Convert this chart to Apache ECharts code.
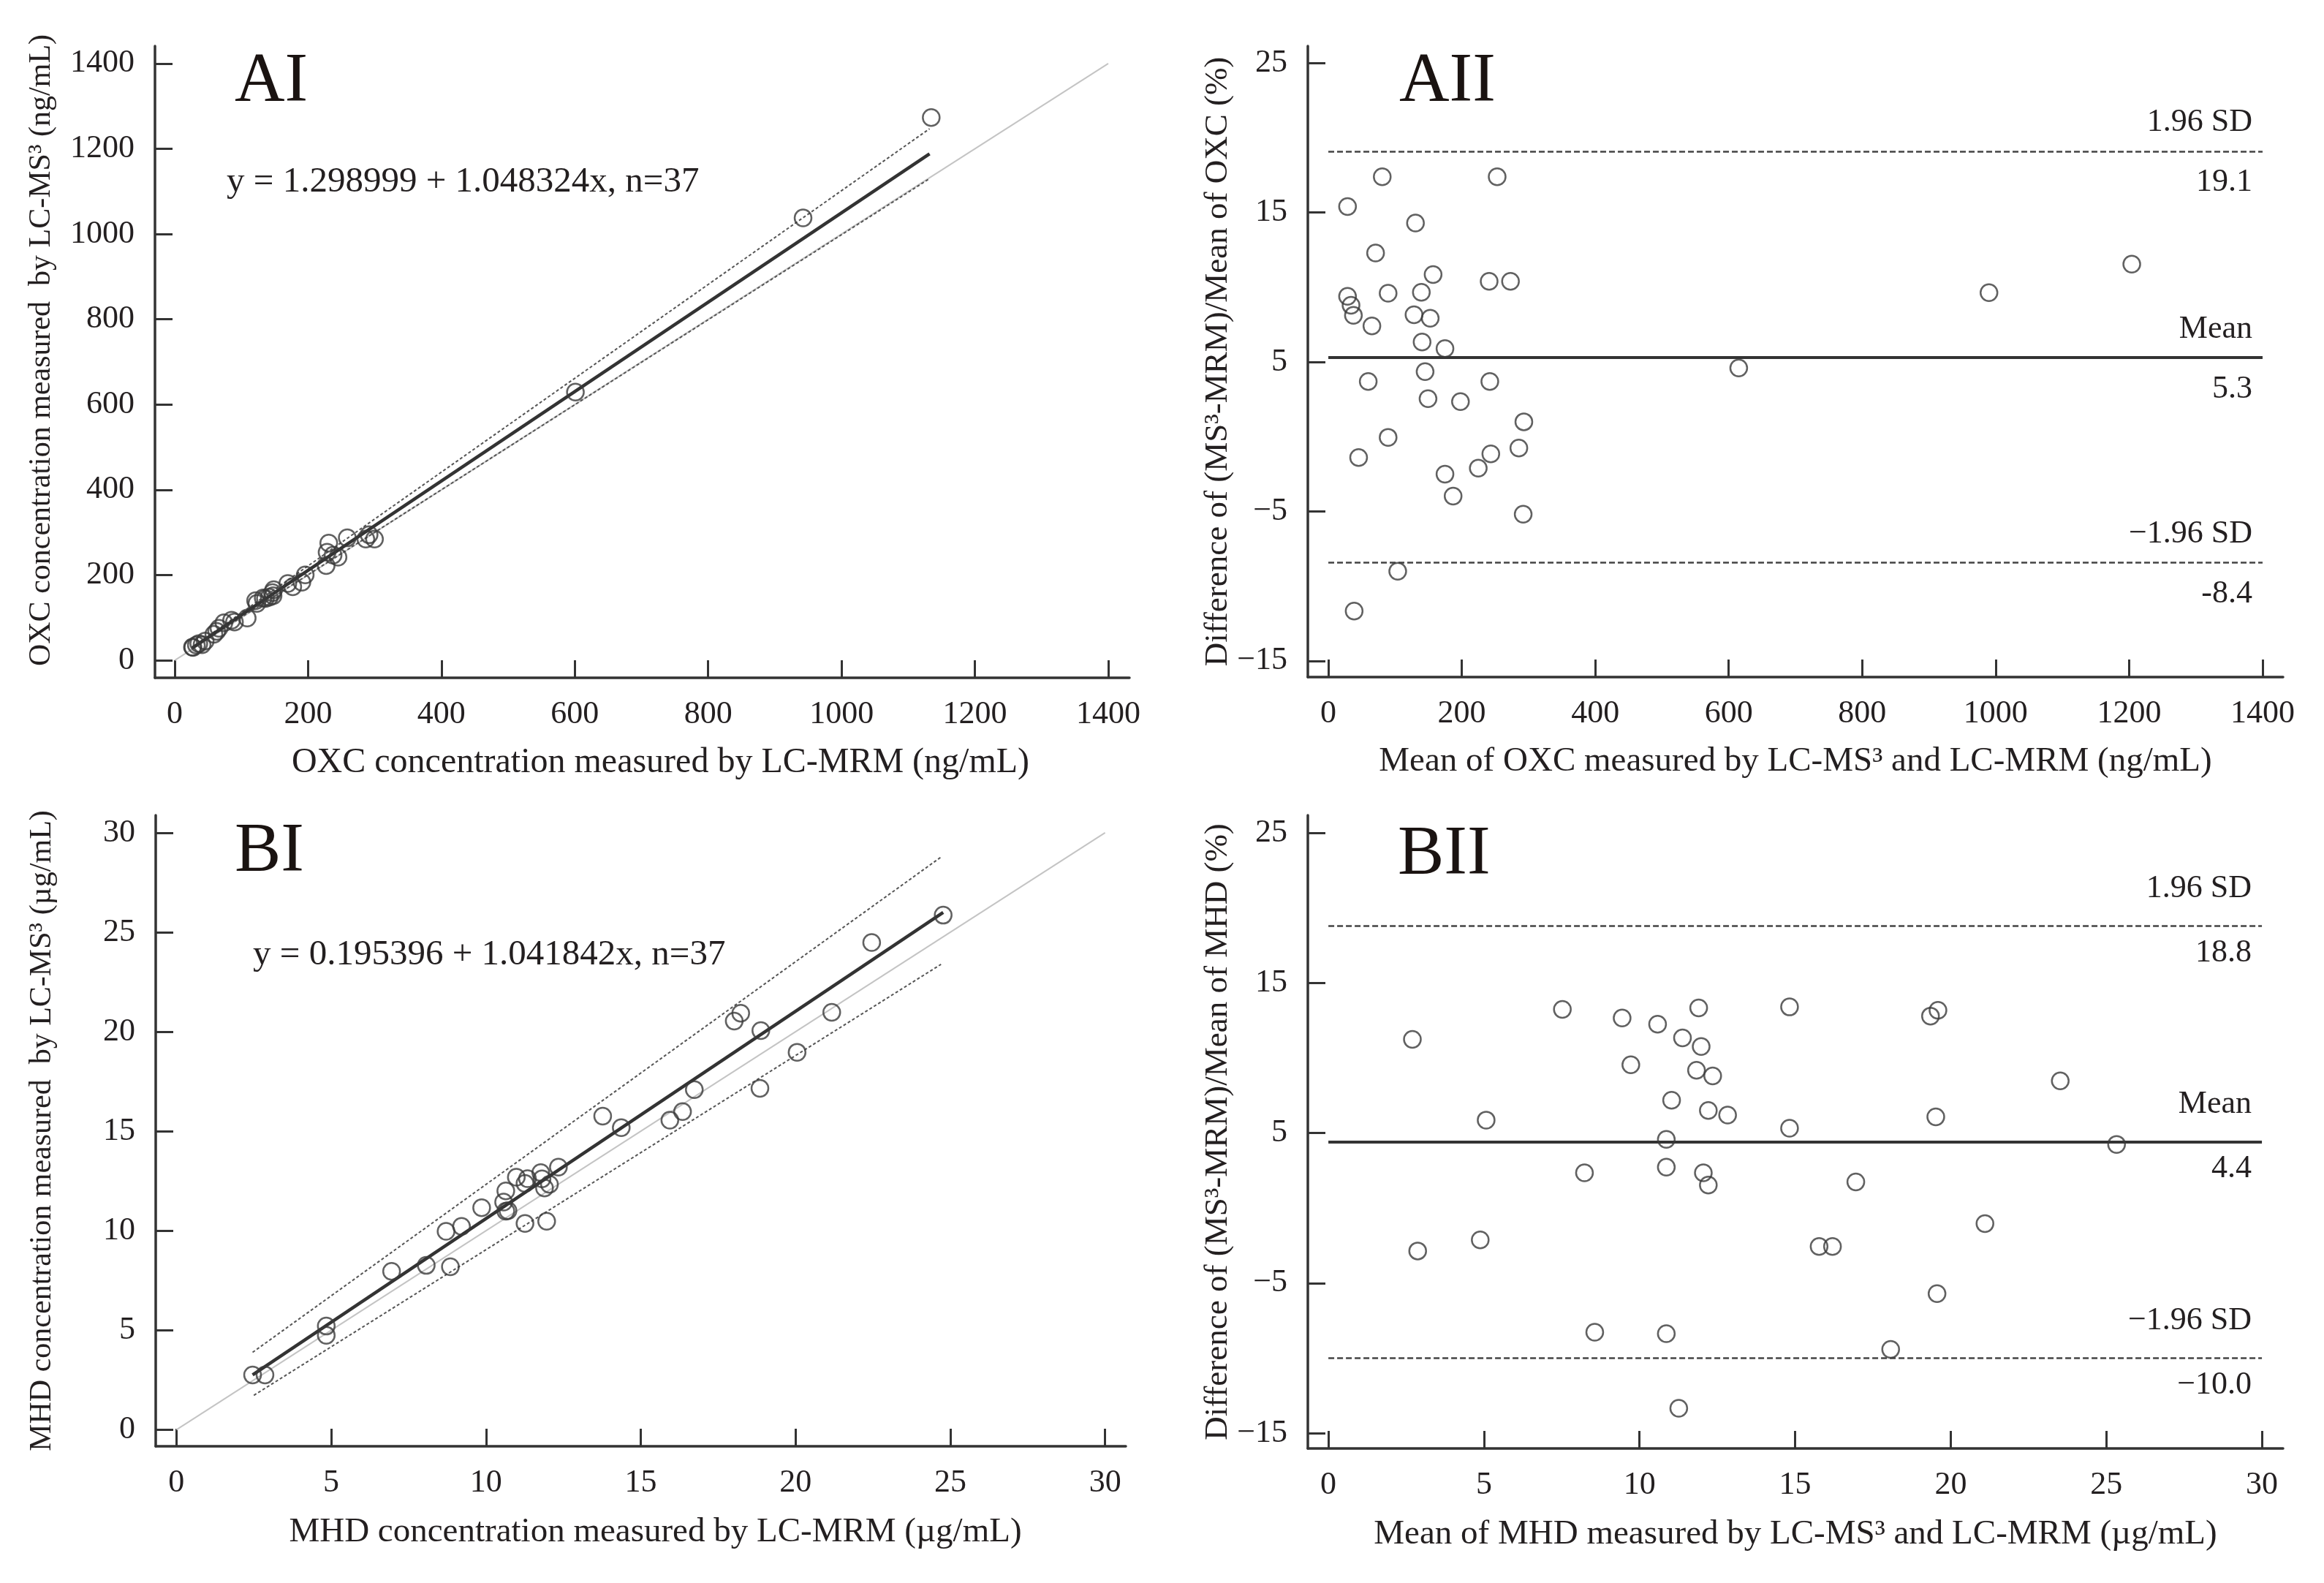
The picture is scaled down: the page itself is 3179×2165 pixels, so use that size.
<!DOCTYPE html>
<html>
<head>
<meta charset="utf-8">
<title>OXC / MHD method comparison</title>
<script src="https://cdn.jsdelivr.net/npm/echarts@6.0.0/dist/echarts.min.js"></script>
<style>
  html, body { margin: 0; padding: 0; background: #fff; }
  #chart { width: 3179px; height: 2165px; }
</style>
</head>
<body>
<div id="chart"></div>
<script>
// ---- data ----
// AI: OXC, LC-MRM (x) vs LC-MS3 (y), ng/mL
var oxcMRM = [26.6, 73.8, 231.0, 121.3, 66.4, 148.5, 228.5, 258.8, 1134.5, 942.3,
              27.4, 32.5, 36.1, 85.3, 132.7, 123.2, 146.6, 62.9, 136.0, 169.6,
              600.9, 58.7, 141.8, 237.5, 147.5, 195.7, 291.5, 89.6, 286.6, 244.9,
              45.7, 227.1, 177.0, 190.7, 299.6, 108.7, 41.0];
var oxcMS3 = [31.0, 87.8, 275.0, 139.9, 75.2, 165.5, 253.5, 287.2, 1273.5, 1037.7,
              30.2, 35.5, 39.1, 93.9, 146.1, 133.6, 158.8, 67.7, 145.0, 180.0,
              629.1, 60.9, 148.2, 246.5, 151.3, 200.3, 294.5, 89.6, 284.4, 242.1,
              45.1, 222.3, 172.6, 183.3, 284.4, 99.3, 36.4];
var oxcFit = [[26, 28.6], [1132, 1188]];
var oxcUpper = [[26, 30.0], [1132, 1247]];
var oxcLower = [[26, 27.2], [1132, 1130]];
var oxcIdentity = [[0, 0], [1400, 1400]];

// AII: OXC Bland-Altman, mean (x) vs difference % (y)
var oxcMean = [28.8, 80.8, 253, 130.6, 70.8, 157, 241, 273, 1204, 990,
               28.8, 34, 37.6, 89.6, 139.4, 128.4, 152.7, 65.3, 140.5, 174.8,
               615, 59.8, 145, 242, 149.4, 198, 293, 89.6, 285.5, 243.5,
               45.4, 224.7, 174.8, 187, 292, 104, 38.7];
var oxcDiff = [15.4, 17.4, 17.4, 14.3, 12.3, 10.85, 10.4, 10.4, 11.55, 9.64,
               9.4, 8.8, 8.13, 9.6, 9.67, 8.16, 7.93, 7.42, 6.34, 5.9,
               4.6, 3.7, 4.36, 3.7, 2.55, 2.35, 1.0, -0.04, -0.75, -1.15,
               -1.39, -2.1, -2.5, -3.97, -5.18, -9.0, -11.67];
var oxcLimits = [19.1, 5.3, -8.4];
var oxcLimitText = ['19.1', '5.3', '-8.4'];

// BI: MHD, LC-MRM (x) vs LC-MS3 (y), ug/mL
var mhdMRM = [2.46, 2.86, 4.84, 4.84, 6.95, 8.07, 8.85, 8.71, 9.21, 9.86,
              10.57, 10.64, 10.64, 10.98, 11.26, 11.26, 11.77, 11.89, 12.05, 12.34,
              11.96, 13.77, 14.37, 15.94, 16.35, 16.73, 18.02, 18.23, 18.88, 18.85,
              20.05, 21.17, 22.46, 24.77, 10.71, 11.34, 11.81];
var mhdMS3 = [2.75, 2.75, 5.21, 4.75, 7.96, 8.26, 8.19, 9.97, 10.22, 11.16,
              11.44, 10.98, 12.0, 12.69, 12.38, 10.37, 12.92, 12.15, 12.33, 13.2,
              10.48, 15.76, 15.18, 15.56, 15.99, 17.09, 20.54, 20.93, 20.06, 17.16,
              18.97, 20.98, 24.49, 25.86, 11.01, 12.62, 12.61];
var mhdFit = [[2.46, 2.76], [24.77, 26.0]];
var mhdUpper = [[2.46, 3.89], [24.7, 28.78]];
var mhdLower = [[2.5, 1.73], [24.7, 23.39]];
var mhdIdentity = [[0, 0], [30, 30]];

// BII: MHD Bland-Altman
var mhdMean = [2.70, 2.87, 5.07, 4.88, 7.52, 8.23, 8.56, 9.44, 9.72, 10.58,
               10.86, 10.86, 11.03, 10.86, 11.26, 11.38, 11.9, 11.98, 11.83, 12.35,
               12.21, 12.83, 12.05, 12.21, 14.82, 14.82, 15.77, 16.2, 16.95, 18.07,
               19.35, 19.59, 19.52, 19.56, 21.1, 23.52, 25.33];
var mhdDiff = [11.24, -2.86, 5.86, -2.12, 13.23, 2.35, -8.27, 12.66, 9.55, 12.25,
               4.58, 2.72, 7.18, -8.37, -13.34, 11.34, 13.33, 10.76, 9.18, 8.8,
               6.5, 6.2, 2.35, 1.53, 13.4, 5.32, -2.56, -2.56, 1.74, -9.42,
               12.79, 13.17, 6.07, -5.7, -1.04, 8.47, 4.24];
var mhdLimits = [18.8, 4.4, -10.0];
var mhdLimitText = ['18.8', '4.4', '\u221210.0'];

var limitNames = ['1.96 SD', 'Mean', '\u22121.96 SD'];

var oxcTicks = [0, 200, 400, 600, 800, 1000, 1200, 1400];
var mhdTicks = [0, 5, 10, 15, 20, 25, 30];
var diffTicks = [-15, -5, 5, 15, 25];

// ---- styles ----
var FONT = 'Liberation Serif';
var INK = '#231f20';
var AXIS = '#333';

function pairs(xs, ys) {
  var out = [];
  for (var i = 0; i < xs.length; i++) out.push([xs[i], ys[i]]);
  return out;
}

function minusFmt(v) {
  return String(v).replace('-', '\u2212');
}

// shift: extra left padding, nudges the centred axis name along its direction
function axis(gridIndex, min, max, ticks, name, nameGap, nameSize, shift) {
  return {
    type: 'value',
    gridIndex: gridIndex,
    min: min,
    max: max,
    name: name,
    nameLocation: 'middle',
    nameGap: nameGap,
    nameTextStyle: { fontFamily: FONT, fontSize: nameSize, color: INK,
                     padding: [0, 0, 0, shift || 0] },
    axisLine: { show: true, onZero: false, lineStyle: { color: AXIS, width: 3.5 } },
    axisTick: { show: true, inside: true, length: 24, customValues: ticks,
                lineStyle: { color: AXIS, width: 3 } },
    axisLabel: { show: true, customValues: ticks, margin: 28, formatter: minusFmt,
                 fontFamily: FONT, fontSize: 44, color: INK },
    splitLine: { show: false }
  };
}

function segment(idx, data, style) {
  return {
    type: 'line', xAxisIndex: idx, yAxisIndex: idx,
    data: data, symbol: 'none', silent: true, z: 2,
    lineStyle: style
  };
}

function dots(idx, data) {
  return {
    type: 'scatter', xAxisIndex: idx, yAxisIndex: idx,
    data: data, symbol: 'circle', symbolSize: 23, z: 5,
    itemStyle: { color: 'rgba(0,0,0,0)', borderColor: '#3a3a3a', borderWidth: 2.5 }
  };
}

function limitLines(limits, texts, xEnd, topGap, botGap) {
  var out = [];
  for (var i = 0; i < limits.length; i++) {
    var v = limits[i];
    out.push([
      { coord: [0, v],
        lineStyle: i === 1 ? { type: 'solid', width: 4, color: '#333' }
                           : { type: [8, 4], width: 2.5, color: '#444' },
        label: { show: true, position: 'insideEndTop', formatter: limitNames[i],
                 distance: [14, topGap] } },
      { coord: [xEnd, v] }
    ]);
    // value text under the line, carried by an invisible twin line
    out.push([
      { coord: [0, v],
        lineStyle: { color: 'rgba(0,0,0,0)', width: 1, type: 'solid' },
        label: { show: true, position: 'insideEndBottom', formatter: texts[i],
                 distance: [14, botGap], color: INK } },
      { coord: [xEnd, v] }
    ]);
  }
  return out;
}

function blandAltman(idx, data, limits, texts, xEnd, topGap, botGap) {
  var s = dots(idx, data);
  s.markLine = {
    silent: true, symbol: ['none', 'none'], animation: false,
    label: { fontFamily: FONT, fontSize: 44, color: INK },
    data: limitLines(limits, texts, xEnd, topGap, botGap)
  };
  return s;
}

var identityStyle = { color: '#c4c4c4', width: 2 };
var fitStyle = { color: '#333', width: 4.5 };
var bandStyle = { color: '#555', width: 2, type: [4, 3] };

function panelLabel(text, left, top) {
  return { text: text, left: left, top: top,
           textStyle: { fontFamily: FONT, fontSize: 95, fontWeight: 'normal', color: '#1a1311' } };
}
function eqLabel(text, left, top) {
  return { text: text, left: left, top: top,
           textStyle: { fontFamily: FONT, fontSize: 49, fontWeight: 'normal', color: INK } };
}

var chart = echarts.init(document.getElementById('chart'));

var option = {
  backgroundColor: '#fff',
  animation: false,
  title: [
    panelLabel('AI', 316, 61),
    panelLabel('AII', 1909, 61),
    panelLabel('BI', 316, 1114),
    panelLabel('BII', 1907, 1118),
    eqLabel('y = 1.298999 + 1.048324x, n=37', 305, 220),
    eqLabel('y = 0.195396 + 1.041842x, n=37', 341, 1277)
  ],
  grid: [
    { left: 212, top: 63, width: 1333, height: 864 },
    { left: 1789, top: 63, width: 1334, height: 863 },
    { left: 213, top: 1115, width: 1327, height: 863 },
    { left: 1789, top: 1115, width: 1334, height: 866 }
  ],
  xAxis: [
    axis(0, -29.6, 1431.8, oxcTicks, 'OXC concentration measured by LC-MRM (ng/mL)', 92, 48, 50),
    axis(1, -30.7, 1430.7, oxcTicks, 'Mean of OXC measured by LC-MS\u00b3 and LC-MRM (ng/mL)', 92, 47),
    axis(2, -0.67, 30.67, mhdTicks, 'MHD concentration measured by LC-MRM (\u00b5g/mL)', 94, 47, 40),
    axis(3, -0.66, 30.68, mhdTicks, 'Mean of MHD measured by LC-MS\u00b3 and LC-MRM (\u00b5g/mL)', 94, 47)
  ],
  yAxis: [
    axis(0, -41.1, 1441, oxcTicks, 'OXC concentration measured  by LC-MS\u00b3 (ng/mL)', 134, 42, 32),
    axis(1, -16.08, 26.14, diffTicks, 'Difference of (MS\u00b3-MRM)/Mean of OXC (%)', 93, 45),
    axis(2, -0.83, 30.88, mhdTicks, 'MHD concentration measured  by LC-MS\u00b3 (\u00b5g/mL)', 134, 42),
    axis(3, -16.02, 26.17, diffTicks, 'Difference of (MS\u00b3-MRM)/Mean of MHD (%)', 93, 45)
  ],
  series: [
    // AI
    segment(0, oxcIdentity, identityStyle),
    segment(0, oxcUpper, bandStyle),
    segment(0, oxcLower, bandStyle),
    segment(0, oxcFit, fitStyle),
    dots(0, pairs(oxcMRM, oxcMS3)),
    // AII
    blandAltman(1, pairs(oxcMean, oxcDiff), oxcLimits, oxcLimitText, 1400, 17, 21),
    // BI
    segment(2, mhdIdentity, identityStyle),
    segment(2, mhdUpper, bandStyle),
    segment(2, mhdLower, bandStyle),
    segment(2, mhdFit, fitStyle),
    dots(2, pairs(mhdMRM, mhdMS3)),
    // BII
    blandAltman(3, pairs(mhdMean, mhdDiff), mhdLimits, mhdLimitText, 30, 29, 15)
  ]
};

chart.setOption(option);
</script>
</body>
</html>
